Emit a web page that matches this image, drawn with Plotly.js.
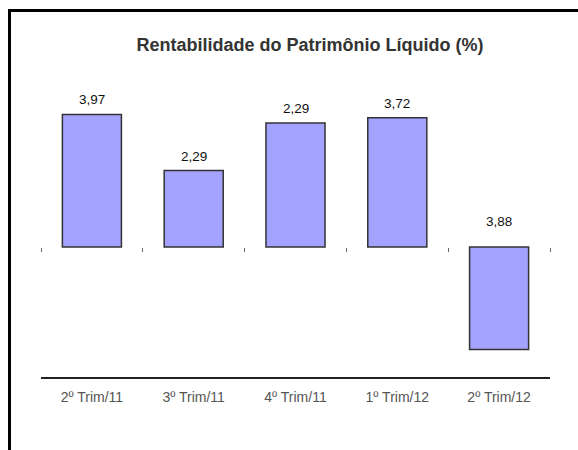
<!DOCTYPE html>
<html>
<head>
<meta charset="utf-8">
<script src="https://cdn.plot.ly/plotly-3.0.1.min.js"></script>
<style>
  html, body { margin: 0; padding: 0; background: #fff; }
  #wrap { position: relative; width: 578px; height: 450px; overflow: hidden; }
  #chart { position: absolute; left: 0; top: 0; width: 578px; height: 450px; }
  #frame { position: absolute; left: 8px; top: 9px; width: 600px; height: 500px;
           border-left: 3px solid #000; border-top: 3px solid #000; pointer-events: none; }
</style>
</head>
<body>
<div id="wrap">
  <div id="chart"></div>
  <div id="frame"></div>
</div>
<script>
// Data
const categories = ["2º Trim/11", "3º Trim/11", "4º Trim/11", "1º Trim/12", "2º Trim/12"];
const barValues = [3.97, 2.29, 3.71, 3.87, -3.07];
const labelTexts = ["3,97", "2,29", "2,29", "3,72", "3,88"];

const yMin = -3.89, yMax = 5.0;
const zeroFrac = (0 - yMin) / (yMax - yMin);

const barTrace = {
  type: "bar",
  x: categories,
  y: barValues,
  marker: { color: "#A3A3FF", line: { color: "#333333", width: 1.5 } },
  hoverinfo: "skip",
  xaxis: "x",
  yaxis: "y"
};

// invisible trace so that the zero-line tick axis is drawn
const tickTrace = {
  type: "scatter",
  mode: "markers",
  x: categories,
  y: barValues.map(() => 0),
  marker: { opacity: 0 },
  hoverinfo: "skip",
  xaxis: "x2",
  yaxis: "y"
};

const annotations = categories.map((c, i) => ({
  x: c,
  y: Math.max(barValues[i], 0),
  xref: "x",
  yref: "y",
  text: labelTexts[i],
  showarrow: false,
  yanchor: "bottom",
  yshift: barValues[i] >= 0 ? 5 : 16,
  font: { family: "Liberation Sans, Arial, sans-serif", size: 13.5, color: "#111" }
}));

const layout = {
  width: 578,
  height: 450,
  margin: { l: 41, r: 28, t: 80, b: 73 },
  paper_bgcolor: "#fff",
  plot_bgcolor: "#fff",
  showlegend: false,
  bargap: 0.42,
  title: {
    text: "<b>Rentabilidade do Patrimônio Líquido (%)</b>",
    font: { family: "Liberation Sans, Arial, sans-serif", size: 18, color: "#333" },
    x: 310 / 578,
    xref: "container",
    xanchor: "center",
    y: 1 - 45 / 450,
    yref: "container",
    yanchor: "middle"
  },
  xaxis: {
    type: "category",
    range: [-0.5, 4.5],
    showline: true,
    linecolor: "#222",
    linewidth: 2,
    ticks: "",
    showgrid: false,
    zeroline: false,
    tickfont: { family: "Liberation Sans, Arial, sans-serif", size: 14, color: "#555" },
    ticklabelstandoff: 6,
    fixedrange: true
  },
  xaxis2: {
    type: "category",
    overlaying: "x",
    anchor: "free",
    position: zeroFrac,
    side: "bottom",
    range: [-0.5, 4.5],
    showline: false,
    showticklabels: false,
    ticks: "outside",
    tickson: "boundaries",
    ticklen: 4,
    tickwidth: 1,
    tickcolor: "#666",
    showgrid: false,
    zeroline: false
  },
  yaxis: {
    range: [yMin, yMax],
    visible: false,
    showgrid: false,
    zeroline: false,
    fixedrange: true
  },
  annotations: annotations
};

Plotly.newPlot("chart", [barTrace, tickTrace], layout, { displayModeBar: false, staticPlot: true });
</script>
</body>
</html>
